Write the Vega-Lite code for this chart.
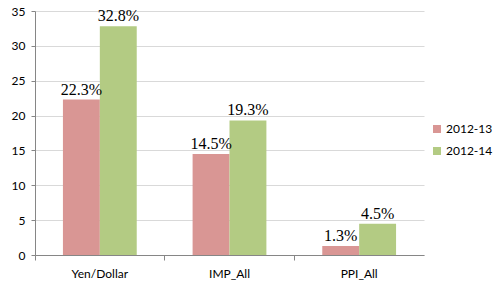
{
  "$schema": "https://vega.github.io/schema/vega-lite/v6.json",
  "width": 389,
  "height": 244,
  "autosize": "none",
  "padding": {"left": 35, "top": 11, "right": 71, "bottom": 30},
  "background": "white",
  "data": {"values": [
    {"cat": "Yen/Dollar", "year": "2012-13", "value": 22.3, "label": "22.3%"},
    {"cat": "Yen/Dollar", "year": "2012-14", "value": 32.8, "label": "32.8%"},
    {"cat": "IMP_All", "year": "2012-13", "value": 14.5, "label": "14.5%"},
    {"cat": "IMP_All", "year": "2012-14", "value": 19.3, "label": "19.3%"},
    {"cat": "PPI_All", "year": "2012-13", "value": 1.3, "label": "1.3%"},
    {"cat": "PPI_All", "year": "2012-14", "value": 4.5, "label": "4.5%"}
  ]},
  "config": {
    "view": {"stroke": null},
    "axis": {"labelFont": "Lato", "labelFontSize": 12, "labelColor": "#000000", "domainColor": "#868686", "tickColor": "#868686", "gridColor": "#D9D9D9", "title": null}
  },
  "encoding": {
    "x": {"field": "cat", "type": "nominal", "sort": ["Yen/Dollar", "IMP_All", "PPI_All"],
      "scale": {"paddingInner": 0, "paddingOuter": 0},
      "axis": {"labelAngle": 0, "bandPosition": 0, "grid": false, "tickSize": 5, "labelPadding": 8, "labelBound": false}},
    "xOffset": {"field": "year", "type": "nominal", "scale": {"paddingInner": 0, "paddingOuter": 0.757}},
    "y": {"field": "value", "type": "quantitative",
      "scale": {"domain": [0, 35], "nice": false},
      "axis": {"values": [0, 5, 10, 15, 20, 25, 30, 35], "tickSize": 4, "labelPadding": 6, "grid": true}}
  },
  "layer": [
    {
      "mark": {"type": "bar"},
      "encoding": {
        "color": {"field": "year", "type": "nominal",
          "scale": {"domain": ["2012-13", "2012-14"], "range": ["#D99694", "#B3CB83"]},
          "legend": {"title": null, "orient": "none", "legendX": 396, "legendY": 112, "symbolType": "square", "symbolSize": 64, "labelFont": "Lato", "labelFontSize": 12, "labelOffset": 3, "labelColor": "#000000", "rowPadding": 10, "symbolStrokeWidth": 0}}
      }
    },
    {
      "mark": {"type": "text", "baseline": "bottom", "dy": -2, "font": "Liberation Serif", "fontSize": 16, "color": "#000000"},
      "encoding": {"text": {"field": "label"}}
    }
  ]
}
